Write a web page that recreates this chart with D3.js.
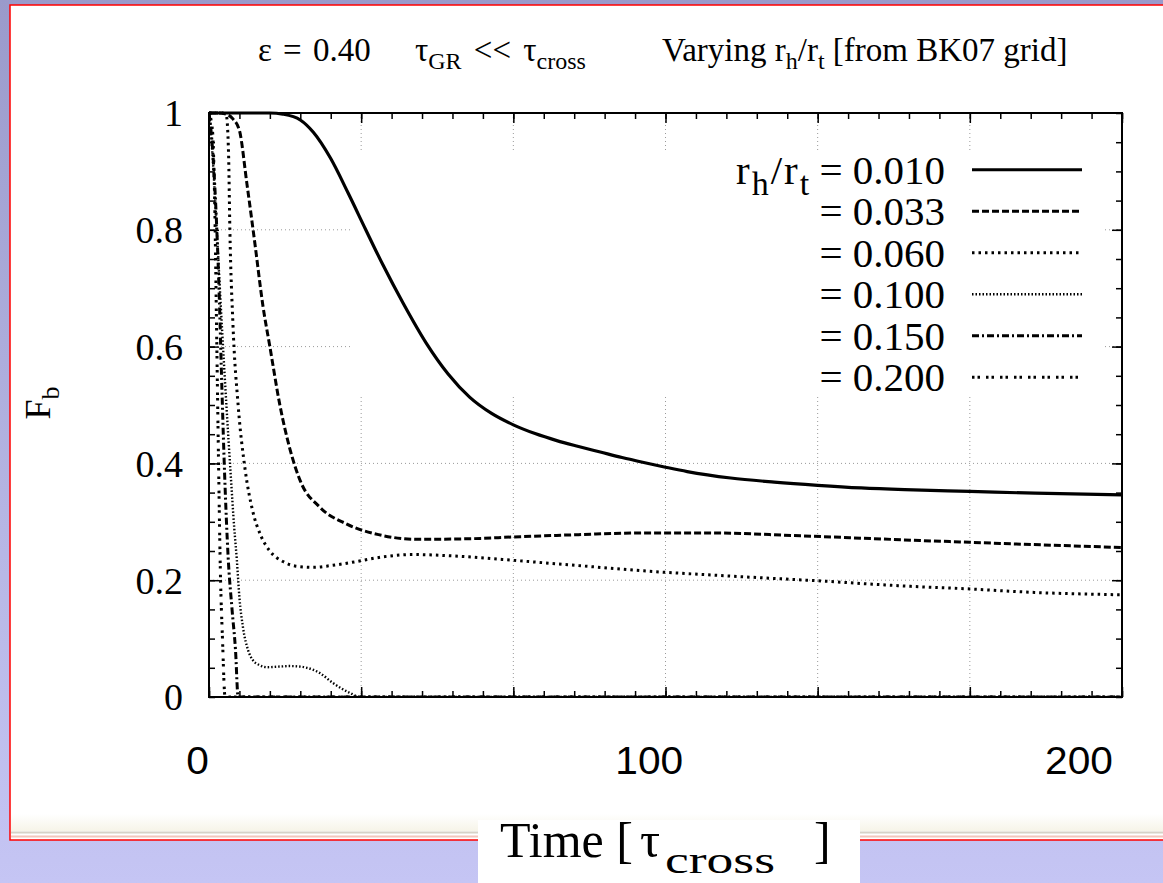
<!DOCTYPE html>
<html>
<head>
<meta charset="utf-8">
<script src="https://cdn.jsdelivr.net/npm/d3@7"></script>
<style>
  body { margin: 0; overflow: hidden; }
  svg { display: block; }
  .serif { font-family: "Liberation Serif", "Times New Roman", serif; fill: #000; }
  .grid line { stroke: #9a9a9a; stroke-width: 1; stroke-dasharray: 1,3; }
  .ticks path { display: none; }
  .ticks line { stroke: #000; stroke-width: 1.5; }
</style>
</head>
<body>
<div id="chart"></div>
<script>
// r_h/r_t labels of the six runs
const legendLabels = ["0.010", "0.033", "0.060", "0.100", "0.150", "0.200"];

// bound fraction F_b against time [t, F_b]
const run010 = [[0,1],[14,1],[17,0.998],[21,0.988],[24,0.967],[28,0.922],[32,0.863],[36,0.801],[40,0.74],[44.6,0.675],[50,0.6055],[55,0.553],[60,0.513],[65,0.4855],[70,0.466],[75,0.451],[80,0.439],[85,0.429],[90,0.4195],[95,0.41],[100,0.4015],[105,0.3935],[110,0.386],[120,0.375],[130,0.368],[140,0.3625],[150,0.358],[160,0.355],[175,0.352],[190,0.349],[210,0.346]];
const run033 = [[0,1],[2,1],[4,0.998],[5.5,0.99],[7,0.97],[8.7,0.88],[10.6,0.774],[12.4,0.67],[14,0.6],[16.3,0.5],[18.6,0.425],[21,0.37],[25.5,0.325],[31.7,0.296],[39,0.278],[48,0.27],[60,0.271],[70,0.274],[85,0.278],[100,0.281],[115,0.281],[136,0.276],[160,0.269],[182,0.263],[210,0.256]];
const run060 = [[0,1],[3,1],[4,0.995],[4.5,0.93],[4.8,0.8],[5.5,0.64],[6.7,0.5],[8.3,0.39],[10,0.32],[12,0.275],[14,0.25],[17,0.232],[20,0.224],[24,0.222],[28,0.225],[34,0.232],[40,0.24],[47,0.244],[55,0.242],[70,0.234],[85,0.225],[100,0.216],[120,0.207],[140,0.199],[160,0.19],[175,0.185],[190,0.179],[210,0.175]];
const run100 = [[0,1],[0.5,0.96],[1.2,0.88],[2,0.77],[3,0.63],[4,0.5],[5,0.38],[5.8,0.29],[6.4,0.235],[7,0.17],[7.8,0.12],[9,0.08],[10.1,0.063],[11.5,0.055],[13.3,0.051],[16,0.052],[18.6,0.053],[21,0.052],[22.5,0.05],[25.5,0.041],[28.5,0.024],[32.4,0.007],[34.7,0],[210,0]];
const run150 = [[0,1],[0.7,0.95],[1.5,0.85],[2.3,0.7],[3,0.52],[3.6,0.38],[4.4,0.24],[5.3,0.15],[6.1,0.08],[6.7,0],[210,0]];
const run200 = [[0,1],[0.8,0.97],[1.3,0.85],[1.8,0.6],[2.2,0.4],[2.6,0.22],[3.1,0.1],[3.7,0],[210,0]];

const runs = [run010, run033, run060, run100, run150, run200];

// tick values
const xLabels = [0, 100, 200];
const xGrid = [35, 70, 105, 140, 175];
const yLabels = [0, 0.2, 0.4, 0.6, 0.8, 1];
const yGrid = [0.2, 0.4, 0.6, 0.8];

// line styles of the runs
const dashes = [null, "7,3", "2.5,4", "1.5,2", "7,3,2,3", "2.5,3,2.5,6"];
const widths = [3.2, 3, 3, 2.4, 3, 3];

let width = 1163, height = 883,
  margin = ({ top: 113, right: 41, bottom: 186, left: 209 });

const svg = d3.select("#chart")
  .append("svg")
  .attr("width", width)
  .attr("height", height);

// slide background
let defs = svg.append("defs");
let bg = defs.append("linearGradient").attr("id", "bg").attr("x1", 0).attr("x2", 0).attr("y1", 0).attr("y2", 1);
bg.append("stop").attr("offset", "0%").attr("stop-color", "#9a9acb");
bg.append("stop").attr("offset", "60%").attr("stop-color", "#b6b6e4");
bg.append("stop").attr("offset", "100%").attr("stop-color", "#c5c5f4");
let foot = defs.append("linearGradient").attr("id", "foot").attr("x1", 0).attr("x2", 0).attr("y1", 0).attr("y2", 1);
foot.append("stop").attr("offset", "0%").attr("stop-color", "#ffffff");
foot.append("stop").attr("offset", "100%").attr("stop-color", "#f6f4e8");

svg.append("rect").attr("width", width).attr("height", height).attr("fill", "url(#bg)");

// white panel with red frame
svg.append("rect").attr("x", 10).attr("y", 5).attr("width", 1170).attr("height", 835)
  .attr("fill", "#fff").attr("stroke", "#f00").attr("stroke-width", 1.5);
svg.append("rect").attr("x", 11).attr("y", 814).attr("width", 1160).attr("height", 17).attr("fill", "url(#foot)");
svg.append("line").attr("x1", 11).attr("x2", width).attr("y1", 832.5).attr("y2", 832.5)
  .attr("stroke", "#d6d2c6").attr("stroke-width", 2);
svg.append("line").attr("x1", 11).attr("x2", width).attr("y1", 836.5).attr("y2", 836.5)
  .attr("stroke", "#f2c6bc").attr("stroke-width", 2);

let x = d3.scaleLinear()
  .domain([0, 210])
  .range([margin.left, width - margin.right]);

let y = d3.scaleLinear()
  .domain([0, 1])
  .range([height - margin.bottom, margin.top]);

let plotW = width - margin.left - margin.right,
  plotH = height - margin.top - margin.bottom;

// grid
svg.append("g").attr("class", "grid")
  .selectAll("line").data(xGrid).join("line")
  .attr("x1", d => x(d)).attr("x2", d => x(d))
  .attr("y1", margin.top).attr("y2", height - margin.bottom);
svg.append("g").attr("class", "grid")
  .selectAll("line").data(yGrid).join("line")
  .attr("x1", margin.left).attr("x2", width - margin.right)
  .attr("y1", d => y(d)).attr("y2", d => y(d));

// key box hides the grid
svg.append("rect").attr("x", 350).attr("y", 150).attr("width", 752).attr("height", 246).attr("fill", "#fff");

// minor + major ticks on all four sides, pointing inward
const xMinor = d3.range(0, 211, 7);
const yMinor = d3.range(0, 1.0001, 0.05);
const xMajor = d3.range(0, 211, 35);

function ticks(axis, values, size, transform) {
  svg.append("g").attr("class", "ticks")
    .attr("transform", transform)
    .call(axis.tickValues(values).tickSize(size).tickFormat(""));
}
ticks(d3.axisBottom(x), xMinor, -6, `translate(0,${y(0)})`);
ticks(d3.axisBottom(x), xMajor, -10, `translate(0,${y(0)})`);
ticks(d3.axisTop(x), xMinor, -6, `translate(0,${y(1)})`);
ticks(d3.axisTop(x), xMajor, -10, `translate(0,${y(1)})`);
ticks(d3.axisLeft(y), yMinor, -6, `translate(${x(0)},0)`);
ticks(d3.axisLeft(y), yGrid, -10, `translate(${x(0)},0)`);
ticks(d3.axisRight(y), yMinor, -6, `translate(${x(210)},0)`);
ticks(d3.axisRight(y), yGrid, -10, `translate(${x(210)},0)`);

// curves
let clip = defs.append("clipPath").attr("id", "plot");
clip.append("rect").attr("x", margin.left).attr("y", margin.top - 3).attr("width", plotW).attr("height", plotH + 3);

let line = d3.line()
  .x(d => x(d[0]))
  .y(d => y(d[1]))
  .curve(d3.curveMonotoneX);

let curves = svg.append("g").attr("clip-path", "url(#plot)");
runs.forEach((run, i) => {
  curves.append("path")
    .datum(run)
    .attr("fill", "none")
    .attr("stroke", "#000")
    .attr("stroke-width", widths[i])
    .attr("stroke-dasharray", dashes[i])
    .attr("d", line);
});

// frame
svg.append("rect")
  .attr("x", margin.left).attr("y", margin.top)
  .attr("width", plotW).attr("height", plotH)
  .attr("fill", "none").attr("stroke", "#000").attr("stroke-width", 2);

// y tick labels
svg.append("g")
  .attr("transform", `translate(${margin.left},0)`)
  .call(d3.axisLeft(y).tickValues(yLabels).tickSize(0).tickPadding(26)
    .tickFormat(d => d === 0 ? "0" : d === 1 ? "1" : d.toFixed(1)))
  .call(g => g.select(".domain").remove())
  .selectAll("text")
  .attr("class", "serif")
  .attr("font-size", 38)
  .attr("dy", "0.34em");

// x labels laid over the slide
svg.append("g")
  .attr("transform", `translate(0,${height - margin.bottom})`)
  .call(d3.axisBottom(x).tickValues(xLabels).tickSize(0).tickPadding(50))
  .call(g => g.select(".domain").remove())
  .selectAll("text")
  .attr("font-family", "'Liberation Sans', Arial, sans-serif")
  .attr("font-size", 38)
  .attr("fill", "#000")
  .attr("transform", d => `translate(${d === 0 ? -12 : d === 100 ? 5 : 0},0) scale(1.07,1)`);

// y label
let yl = svg.append("text")
  .attr("class", "serif")
  .attr("transform", "translate(50,403) rotate(-90)")
  .attr("text-anchor", "middle")
  .attr("font-size", 36);
yl.append("tspan").text("F");
yl.append("tspan").attr("dy", 9).attr("font-size", 26).text("b");

// title line
let t1 = svg.append("text").attr("class", "serif").attr("x", 258).attr("y", 61).attr("font-size", 33)
  .attr("word-spacing", 3);
t1.append("tspan").text("\u03b5 = 0.40");

let t2 = svg.append("text").attr("class", "serif").attr("x", 415).attr("y", 61).attr("font-size", 33)
  .attr("word-spacing", 4);
t2.append("tspan").text("\u03c4");
t2.append("tspan").attr("dy", 8).attr("font-size", 24).text("GR");
t2.append("tspan").attr("dy", -8).text(" << \u03c4");
t2.append("tspan").attr("dy", 8).attr("font-size", 24).text("cross");

let t3 = svg.append("text").attr("class", "serif").attr("x", 662).attr("y", 61).attr("font-size", 33);
t3.append("tspan").text("Varying r");
t3.append("tspan").attr("dy", 8).attr("font-size", 24).text("h");
t3.append("tspan").attr("dy", -8).text("/r");
t3.append("tspan").attr("dy", 8).attr("font-size", 24).text("t");
t3.append("tspan").attr("dy", -8).text(" [from BK07 grid]");

// legend
let key = d3.scaleBand()
  .domain(legendLabels)
  .range([149, 398]);

legendLabels.forEach((lab, i) => {
  let cy = key(lab) + key.bandwidth() / 2;
  let txt = svg.append("text").attr("class", "serif")
    .attr("x", 945).attr("y", cy + 14)
    .attr("text-anchor", "end")
    .attr("font-size", 41);
  if (i === 0) {
    txt.append("tspan").attr("letter-spacing", 2).text("r");
    txt.append("tspan").attr("dy", 11).attr("font-size", 34).attr("letter-spacing", 2).text("h");
    txt.append("tspan").attr("dy", -11).attr("letter-spacing", 2).text("/r");
    txt.append("tspan").attr("dy", 11).attr("font-size", 34).text("t");
    txt.append("tspan").attr("dy", -11).text(" = " + lab);
  } else {
    txt.append("tspan").text("= " + lab);
  }
  svg.append("line")
    .attr("x1", 972).attr("x2", 1082)
    .attr("y1", cy).attr("y2", cy)
    .attr("stroke", "#000")
    .attr("stroke-width", widths[i])
    .attr("stroke-dasharray", dashes[i]);
});

// axis title box sitting on the slide edge
svg.append("rect").attr("x", 478).attr("y", 820).attr("width", 382).attr("height", 63).attr("fill", "#fff");
svg.append("text").attr("class", "serif").attr("x", 500).attr("y", 857).attr("font-size", 50).text("Time [");
svg.append("text").attr("class", "serif").attr("x", 640).attr("y", 857).attr("font-size", 50).text("\u03c4");
svg.append("text").attr("class", "serif").attr("x", 665).attr("y", 873).attr("font-size", 38)
  .attr("textLength", 110).attr("lengthAdjust", "spacingAndGlyphs").text("cross");
svg.append("text").attr("class", "serif").attr("x", 814).attr("y", 857).attr("font-size", 50).text("]");
</script>
</body>
</html>
